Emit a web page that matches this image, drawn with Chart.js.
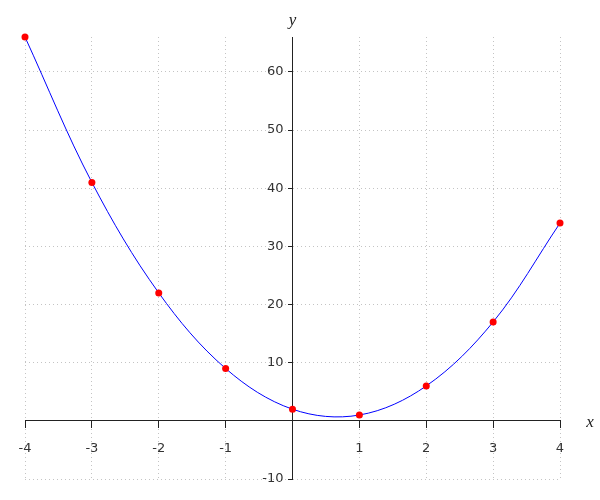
<!DOCTYPE html>
<html>
<head>
<meta charset="utf-8">
<script src="https://cdn.jsdelivr.net/npm/chart.js@4"></script>
<style>
  html, body { margin: 0; padding: 0; background: #fff; }
  #wrap { width: 600px; height: 500px; }
</style>
</head>
<body>
<div id="wrap"><canvas id="chart" width="600" height="500"></canvas></div>
<script>
// Datos
const xValues = [-4, -3, -2, -1, 0, 1, 2, 3, 4];
const yValues = [66, 41, 22, 9, 2, 1, 6, 17, 34];
const xTicks = [-4, -3, -2, -1, 0, 1, 2, 3, 4];
const yTicks = [-10, 0, 10, 20, 30, 40, 50, 60];
const xAxisName = 'x';
const yAxisName = 'y';

const points = xValues.map((x, i) => ({ x: x, y: yValues[i] }));
const tickFont = '13px "DejaVu Sans", sans-serif';

// Nombres de ejes y etiquetas del eje y (Chart.js no aplica el padding
// a las etiquetas de un eje y posicionado con {x: 0})
const axisNames = {
    id: 'axisNames',
    afterDraw(chart) {
        const { ctx, chartArea, scales } = chart;
        const x0 = scales.x.getPixelForValue(0);
        const y0 = scales.y.getPixelForValue(0);
        ctx.save();
        ctx.font = tickFont;
        ctx.fillStyle = '#333';
        ctx.textAlign = 'right';
        ctx.textBaseline = 'middle';
        yTicks.forEach(v => {
            if (v === 0) return;
            ctx.fillText(String(v), x0 - 9, scales.y.getPixelForValue(v));
        });
        ctx.font = 'italic 17px "Liberation Serif", "DejaVu Serif", serif';
        ctx.fillStyle = '#222';
        ctx.textAlign = 'center';
        ctx.fillText(xAxisName, chartArea.right + 30, y0 + 2);
        ctx.fillText(yAxisName, x0, chartArea.top - 16);
        ctx.restore();
    }
};

const hideZero = v => (v === 0 ? null : String(v));

new Chart(document.getElementById('chart'), {
    type: 'line',
    data: {
        datasets: [{
            data: points,
            borderColor: '#0000ff',
            borderWidth: 1,
            pointBackgroundColor: '#ff0000',
            pointBorderColor: '#ff0000',
            pointRadius: 3.5,
            pointBorderWidth: 0,
            tension: 0.35,
            fill: false,
            clip: false
        }]
    },
    options: {
        responsive: false,
        animation: false,
        layout: { padding: { left: 25, right: 40, top: 37, bottom: 21 } },
        plugins: {
            legend: { display: false },
            tooltip: { enabled: false }
        },
        scales: {
            x: {
                type: 'linear',
                position: { y: 0 },
                min: -4,
                max: 4,
                afterFit: s => { s.height = 0; },
                afterBuildTicks: s => { s.ticks = xTicks.map(v => ({ value: v })); },
                ticks: {
                    callback: hideZero,
                    color: '#333',
                    font: { family: '"DejaVu Sans", sans-serif', size: 13 },
                    padding: 13,
                    maxRotation: 0,
                    autoSkip: false
                },
                grid: {
                    color: '#c4c4c4',
                    lineWidth: 1,
                    tickLength: 7,
                    tickColor: '#222',
                    tickBorderDash: []
                },
                border: { display: true, color: '#222', width: 1, dash: [1, 3] }
            },
            y: {
                type: 'linear',
                position: { x: 0 },
                min: -10,
                max: 66,
                afterFit: s => { s.width = 0; },
                afterBuildTicks: s => { s.ticks = yTicks.map(v => ({ value: v })); },
                ticks: {
                    callback: hideZero,
                    color: 'rgba(0,0,0,0)',
                    font: { family: '"DejaVu Sans", sans-serif', size: 13 },
                    padding: 6,
                    autoSkip: false
                },
                grid: {
                    color: '#c4c4c4',
                    lineWidth: 1,
                    tickLength: 4,
                    tickColor: '#222',
                    tickBorderDash: []
                },
                border: { display: true, color: '#222', width: 1, dash: [1, 3] }
            }
        }
    },
    plugins: [axisNames]
});
</script>
</body>
</html>
